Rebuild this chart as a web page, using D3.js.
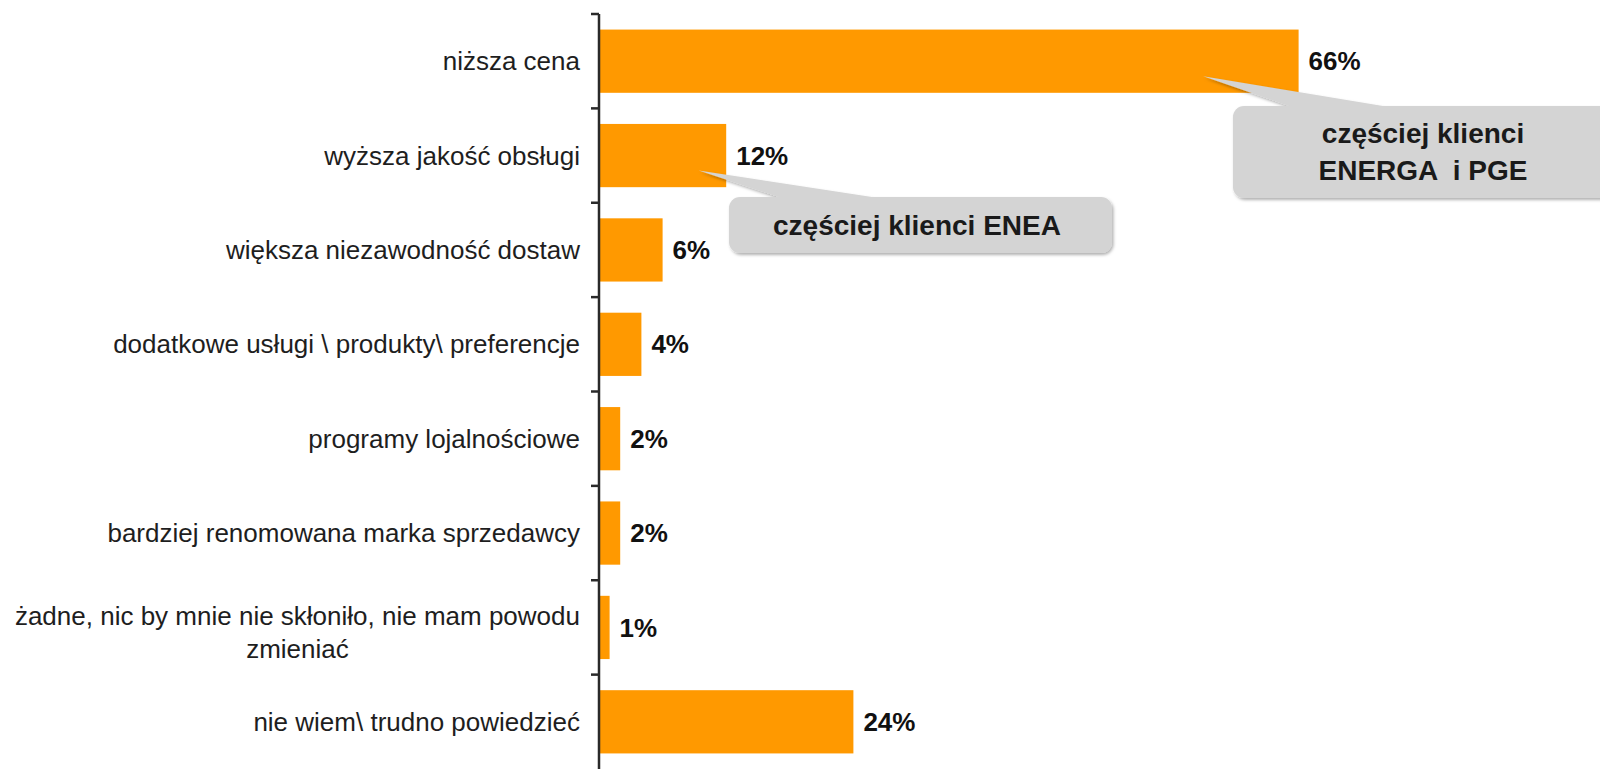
<!DOCTYPE html>
<html>
<head>
<meta charset="utf-8">
<script src="https://cdn.jsdelivr.net/npm/d3@7"></script>
<style>
  html, body { margin: 0; padding: 0; background: #fff; }
  svg { display: block; font-family: "Liberation Sans", Arial, sans-serif; }
  .cat-label { font-size: 26px; fill: #1e1e1e; }
  .value-label { font-size: 26px; font-weight: bold; fill: #111; }
  .callout-text { font-size: 28px; font-weight: bold; fill: #1a1a1a; white-space: pre; }
</style>
</head>
<body>
<svg id="chart" width="1600" height="769"></svg>
<script>
var categories = [
  "niższa cena",
  "wyższa jakość obsługi",
  "większa niezawodność dostaw",
  "dodatkowe usługi \\ produkty\\ preferencje",
  "programy lojalnościowe",
  "bardziej renomowana marka sprzedawcy",
  "żadne, nic by mnie nie skłoniło, nie mam powodu\nzmieniać",
  "nie wiem\\ trudno powiedzieć"
];
var values = [66, 12, 6, 4, 2, 2, 1, 24];

// callouts: which category they point at, where along the bar the tip sits (in %)
var calloutCategories = [0, 1];
var calloutTipValues = [57, 9.4];
var calloutLines = [
  ["częściej klienci", "ENERGA  i PGE"],
  ["częściej klienci ENEA"]
];

var svg = d3.select("#chart");

var x = d3.scaleLinear()
  .domain([0, 100])
  .range([599, 1659]);

var y = d3.scaleBand()
  .domain(d3.range(categories.length))
  .range([14, 769])
  .paddingInner(0.33)
  .paddingOuter(0.165);

var defs = svg.append("defs");
var shadow = defs.append("filter")
  .attr("id", "shadow")
  .attr("x", "-10%").attr("y", "-20%")
  .attr("width", "130%").attr("height", "150%");
shadow.append("feDropShadow")
  .attr("dx", 1.5)
  .attr("dy", 2)
  .attr("stdDeviation", 1.5)
  .attr("flood-color", "#000")
  .attr("flood-opacity", 0.3);

// bars
svg.selectAll(".bar")
  .data(values)
  .enter().append("rect")
    .attr("class", "bar")
    .attr("x", x(0))
    .attr("y", function(d, i) { return y(i) })
    .attr("width", function(d) { return x(d) - x(0) })
    .attr("height", y.bandwidth())
    .attr("fill", "#ff9900");

// value labels
svg.selectAll(".value-label")
  .data(values)
  .enter().append("text")
    .attr("class", "value-label")
    .attr("x", function(d) { return x(d) + 10 })
    .attr("y", function(d, i) { return y(i) + y.bandwidth() / 2 })
    .attr("dy", "0.35em")
    .text(function(d) { return d + "%" });

// axis with ticks between categories
var step = y.step();
var tickPos = d3.range(categories.length).map(function(i) { return y(i) - y.paddingInner() * step / 2 });
var axisG = svg.append("g").attr("class", "axis");
axisG.append("line")
  .attr("x1", x(0)).attr("x2", x(0))
  .attr("y1", tickPos[0]).attr("y2", 769)
  .attr("stroke", "#2a2a2a")
  .attr("stroke-width", 2.5);
axisG.selectAll(".tick")
  .data(tickPos)
  .enter().append("line")
    .attr("class", "tick")
    .attr("x1", x(0) - 8).attr("x2", x(0))
    .attr("y1", function(d) { return d })
    .attr("y2", function(d) { return d })
    .attr("stroke", "#2a2a2a")
    .attr("stroke-width", 2.5);

// category labels (multi-line ones centred on their longest line)
var labelRight = x(0) - 19;
var lineHeight = 33;
categories.forEach(function(c, i) {
  var lines = c.split("\n");
  var cy = y(i) + y.bandwidth() / 2 + (lines.length > 1 ? 5 : 0);
  var t = svg.append("text")
    .attr("class", "cat-label")
    .attr("text-anchor", "end");
  lines.forEach(function(l, j) {
    t.append("tspan")
      .attr("x", labelRight)
      .attr("y", cy + (j - (lines.length - 1) / 2) * lineHeight)
      .attr("dy", "0.35em")
      .text(l);
  });
  if (lines.length > 1) {
    var maxW = d3.max(t.selectAll("tspan").nodes(), function(n) { return n.getComputedTextLength() });
    t.attr("text-anchor", "middle")
      .selectAll("tspan").attr("x", labelRight - maxW / 2);
  }
});

// callouts
var boxes = [
  {x: 1233, y: 106, w: 420, h: 92, tx: 1423, base: [1295, 1395]},
  {x: 729, y: 197, w: 383, h: 56, tx: 917, base: [785, 885]}
];
calloutCategories.forEach(function(ci, k) {
  var b = boxes[k];
  var g = svg.append("g").attr("filter", "url(#shadow)");
  var tipX = x(calloutTipValues[k]);
  var tipY = y(ci) + y.bandwidth() / 2 + 15;
  g.append("path")
    .attr("d", "M" + tipX + "," + tipY + "L" + b.base[1] + "," + (b.y + 2) + "L" + b.base[0] + "," + (b.y + 2) + "Z")
    .attr("fill", "#d4d4d4");
  g.append("rect")
    .attr("x", b.x).attr("y", b.y)
    .attr("width", b.w).attr("height", b.h)
    .attr("rx", 11)
    .attr("fill", "#d4d4d4");
  var lines = calloutLines[k];
  var cy = b.y + b.h / 2;
  lines.forEach(function(l, j) {
    svg.append("text")
      .attr("class", "callout-text")
      .attr("text-anchor", "middle")
      .attr("x", b.tx)
      .attr("y", cy + (j - (lines.length - 1) / 2) * 37)
      .attr("dy", "0.35em")
      .text(l);
  });
});
</script>
</body>
</html>
